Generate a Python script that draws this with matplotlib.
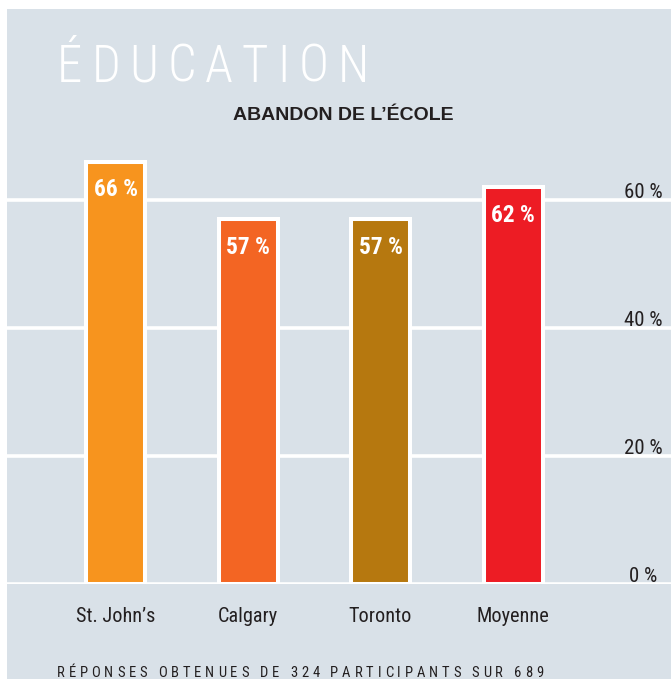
import matplotlib
matplotlib.use("Agg")
from matplotlib import pyplot as plt
from matplotlib import font_manager as fm
from matplotlib import transforms
from matplotlib.patches import Rectangle
from matplotlib.ft2font import FT2Font

# data
categories = ["St. John’s", "Calgary", "Toronto", "Moyenne"]
values = [66, 57, 57, 62]
value_labels = ["66 %", "57 %", "57 %", "62 %"]
bar_colors = ["#f7941e", "#f36523", "#b6780f", "#ed1c24"]
yticks = [0, 20, 40, 60]
ytick_labels = ["0 %", "20 %", "40 %", "60 %"]
title = "ÉDUCATION"
subtitle = "ABANDON DE L’ÉCOLE"
footer = "RÉPONSES OBTENUES DE 324 PARTICIPANTS SUR 689"

W, H = 671, 679
BG = "#d9e1e8"
DARK = "#231f20"

names = set(f.name for f in fm.fontManager.ttflist)
def pick(cands):
    for c in cands:
        if c in names:
            return c
    return "DejaVu Sans"
NARROW = pick(["Liberation Sans Narrow", "Roboto Condensed", "DejaVu Sans Condensed", "Liberation Sans"])
WIDE = pick(["Liberation Sans", "Arial", "DejaVu Sans"])


def fx(px):
    return px / W


def fy(py):
    return 1 - py / H


def spaced(fig, x0, ybase, s, size, target_w, **kw):
    # draw letter-spaced text, one glyph at a time, fitted to target width
    prop = fm.FontProperties(family=kw.get("family", NARROW), weight=kw.get("weight", "normal"))
    f = FT2Font(fm.findfont(prop))
    f.set_size(size, 100)
    adv = [f.load_char(ord(c)).linearHoriAdvance / 65536.0 for c in s]
    track = (target_w - sum(adv)) / (len(s) - 1)
    x = x0
    for c, a in zip(s, adv):
        fig.text(fx(x), fy(ybase), c, fontsize=size, va="baseline", ha="left", **kw)
        x += a + track


fig = plt.figure(figsize=(W / 100, H / 100), dpi=100)
fig.patch.set_facecolor("white")
fig.patches.append(Rectangle((fx(7), 0), 1 - fx(7), fy(9), transform=fig.transFigure,
                             facecolor=BG, edgecolor="none", zorder=-5))

# axes: 0 at y=584px, 6.4 px per percent
ax = fig.add_axes([fx(7), fy(584), 1 - fx(7), (584 - 136) / H])
ax.set_zorder(2)
ax.set_facecolor("none")
ax.set_ylim(0, 70)
ax.set_xlim(-0.819, 4.192)
for s in ax.spines.values():
    s.set_visible(False)
ax.set_xticks([])
ax.set_yticks([])

for t in yticks:
    ax.axhline(t, color="white", lw=2.6, zorder=1)

x = list(range(len(categories)))
ax.bar(x, values, width=59 / 132.5, color=bar_colors, edgecolor="white", linewidth=2.9, zorder=3)

for xi, v, lab in zip(x, values, value_labels):
    ax.annotate(lab, (xi, v), xytext=(0, -25), textcoords="offset points",
                ha="center", va="baseline", color="white", fontsize=16.8,
                fontweight="bold", family=NARROW, zorder=4)

for xi, lab in zip(x, categories):
    ax.annotate(lab, (xi, 0), xytext=(0, -27.4), textcoords="offset points",
                ha="center", va="baseline", color=DARK, fontsize=14.6, family=NARROW,
                annotation_clip=False)

tr = transforms.blended_transform_factory(fig.transFigure, ax.transData)
for t, lab in zip(yticks, ytick_labels):
    ax.annotate(lab, (fx(643.5), t), xycoords=tr, xytext=(0, 1.2), textcoords="offset points",
                ha="center", va="baseline", color=DARK, fontsize=15, family=NARROW,
                annotation_clip=False)

# header
spaced(fig, 57, 82, title, 36.5, 312, color="white", family=NARROW, weight="light")
fig.text(fx(343), fy(120), subtitle, ha="center", va="baseline", color=DARK,
         fontsize=14, fontweight="bold", family=WIDE)

# footer
spaced(fig, 57, 677, footer, 10.5, 486, color=DARK, family=NARROW)

fig.savefig("out.png", dpi=100, facecolor=fig.get_facecolor())
